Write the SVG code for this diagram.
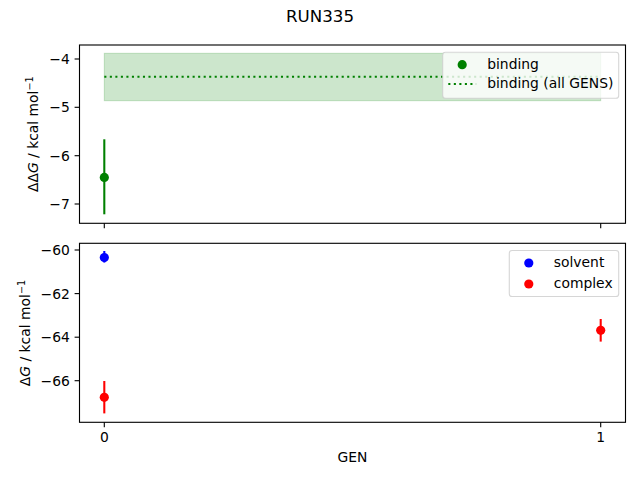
<svg xmlns="http://www.w3.org/2000/svg" width="640" height="480" viewBox="0 0 640 480">
<style>
text{font-family:"DejaVu Sans","Liberation Sans",sans-serif;font-size:13.89px;fill:#000}
.spine{fill:none;stroke:#000;stroke-width:1.11}
.tick{stroke:#000;stroke-width:1.11}
.yl{text-anchor:end}
.xl{text-anchor:middle}
.leg{fill:#fff;fill-opacity:0.8;stroke:#ccc;stroke-opacity:0.8;stroke-width:1.11}
.eb{stroke-width:2.08}
</style>
<rect width="640" height="480" fill="#fff"/>
<text x="320" y="22" style="font-size:16.67px" text-anchor="middle">RUN335</text>

<g id="top-axes">
  <rect x="104.3" y="53.3" width="496.4" height="47.4" fill="#008000" fill-opacity="0.2" stroke="#008000" stroke-opacity="0.2" stroke-width="1"/>
  <line x1="104.3" y1="76.7" x2="600.7" y2="76.7" stroke="#008000" stroke-width="2.08" stroke-dasharray="2.08 3.44"/>
  <line class="eb" x1="104.3" y1="139.3" x2="104.3" y2="214.3" stroke="#008000"/>
  <circle cx="104.3" cy="177.4" r="4.6" fill="#008000"/>
  <rect class="spine" x="79.5" y="45" width="546" height="178.3"/>
  <g class="tick">
    <line x1="74.6" y1="59" x2="79.5" y2="59"/>
    <line x1="74.6" y1="107.3" x2="79.5" y2="107.3"/>
    <line x1="74.6" y1="155.7" x2="79.5" y2="155.7"/>
    <line x1="74.6" y1="204" x2="79.5" y2="204"/>
    <line x1="104.3" y1="223.3" x2="104.3" y2="228.2"/>
    <line x1="600.7" y1="223.3" x2="600.7" y2="228.2"/>
  </g>
  <text class="yl" x="69.8" y="64">−4</text>
  <text class="yl" x="69.8" y="112.3">−5</text>
  <text class="yl" x="69.8" y="160.7">−6</text>
  <text class="yl" x="69.8" y="209">−7</text>
  <text transform="translate(38.3,134.2) rotate(-90)" text-anchor="middle">ΔΔ<tspan font-style="italic">G</tspan> / kcal mol<tspan style="font-size:9.7px" dy="-5.5">−1</tspan></text>
</g>

<g id="top-legend">
  <rect class="leg" x="442.7" y="52.2" width="176" height="46" rx="2.8"/>
  <circle cx="462.2" cy="64.7" r="4.6" fill="#008000"/>
  <text x="487.2" y="68.7">binding</text>
  <line x1="448.3" y1="84" x2="476.1" y2="84" stroke="#008000" stroke-width="2.08" stroke-dasharray="2.08 3.44"/>
  <text x="487.2" y="88">binding (all GENS)</text>
</g>

<g id="bottom-axes">
  <line class="eb" x1="104.3" y1="251" x2="104.3" y2="262.5" stroke="#0000ff"/>
  <circle cx="104.3" cy="257.6" r="4.6" fill="#0000ff"/>
  <line class="eb" x1="104.3" y1="381" x2="104.3" y2="413.4" stroke="#ff0000"/>
  <circle cx="104.3" cy="397.3" r="4.6" fill="#ff0000"/>
  <line class="eb" x1="600.7" y1="319" x2="600.7" y2="341.6" stroke="#ff0000"/>
  <circle cx="600.7" cy="330.3" r="4.6" fill="#ff0000"/>
  <rect class="spine" x="79.5" y="243.3" width="546" height="179"/>
  <g class="tick">
    <line x1="74.6" y1="250" x2="79.5" y2="250"/>
    <line x1="74.6" y1="293.6" x2="79.5" y2="293.6"/>
    <line x1="74.6" y1="337.2" x2="79.5" y2="337.2"/>
    <line x1="74.6" y1="380.7" x2="79.5" y2="380.7"/>
    <line x1="104.3" y1="422.3" x2="104.3" y2="427.2"/>
    <line x1="600.7" y1="422.3" x2="600.7" y2="427.2"/>
  </g>
  <text class="yl" x="69.8" y="255">−60</text>
  <text class="yl" x="69.8" y="298.6">−62</text>
  <text class="yl" x="69.8" y="342.2">−64</text>
  <text class="yl" x="69.8" y="385.7">−66</text>
  <text class="xl" x="104.3" y="442.3">0</text>
  <text class="xl" x="600.7" y="442.3">1</text>
  <text transform="translate(30.3,333) rotate(-90)" text-anchor="middle">Δ<tspan font-style="italic">G</tspan> / kcal mol<tspan style="font-size:9.7px" dy="-5.5">−1</tspan></text>
  <text class="xl" x="352.5" y="462">GEN</text>
</g>

<g id="bottom-legend">
  <rect class="leg" x="509.3" y="250.5" width="109.4" height="46" rx="2.8"/>
  <circle cx="528.8" cy="263" r="4.6" fill="#0000ff"/>
  <text x="553.8" y="267">solvent</text>
  <circle cx="528.8" cy="284" r="4.6" fill="#ff0000"/>
  <text x="553.8" y="288">complex</text>
</g>
</svg>
